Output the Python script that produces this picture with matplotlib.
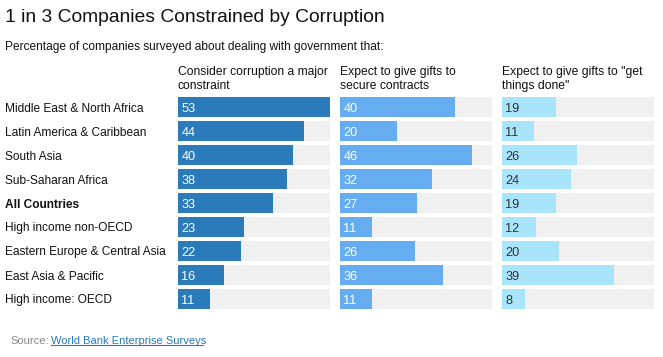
import matplotlib.pyplot as plt

plt.rcParams['font.family'] = ['Liberation Sans', 'DejaVu Sans']

regions = ['Middle East & North Africa', 'Latin America & Caribbean', 'South Asia',
           'Sub-Saharan Africa', 'All Countries', 'High income non-OECD',
           'Eastern Europe & Central Asia', 'East Asia & Pacific', 'High income: OECD']
corruption = [53, 44, 40, 38, 33, 23, 22, 16, 11]
gifts_contracts = [40, 20, 46, 32, 27, 11, 26, 36, 11]
gifts_done = [19, 11, 26, 24, 19, 12, 20, 39, 8]

headers = ['Consider corruption a major\nconstraint',
           'Expect to give gifts to\nsecure contracts',
           'Expect to give gifts to "get\nthings done"']
colors = ['#2b7bba', '#65acf0', '#a8e4fa']
text_colors = ['white', 'white', '#333333']
series = [corruption, gifts_contracts, gifts_done]

W, H = 663, 357
fig = plt.figure(figsize=(W / 100, H / 100), dpi=100)

fig.text(5 / W, 1 - 18 / H, '1 in 3 Companies Constrained by Corruption',
         fontsize=13.9, va='center', ha='left', color='#111111')
fig.text(5 / W, 1 - 47 / H, 'Percentage of companies surveyed about dealing with government that:',
         fontsize=8.6, va='center', ha='left', color='#111111')

max_val = 53
panel_left = [178, 340, 502]
panel_w = 152
top, bottom = 95, 311
n = len(regions)

for p in range(3):
    ax = fig.add_axes([panel_left[p] / W, 1 - bottom / H, panel_w / W, (bottom - top) / H])
    ypos = list(range(n))
    ax.barh(ypos, [max_val] * n, height=20 / 24, color='#f0f0f0')
    ax.barh(ypos, series[p], height=20 / 24, color=colors[p])
    for i, v in enumerate(series[p]):
        ax.text(1.2, i, str(v), color=text_colors[p], fontsize=9.2, va='center_baseline', ha='left')
    ax.set_xlim(0, max_val)
    ax.set_ylim(n - 0.5, -0.5)
    ax.axis('off')
    fig.text(panel_left[p] / W, 1 - 79 / H, headers[p], fontsize=8.7, va='center',
             ha='left', color='#111111', linespacing=1.2)

for i, r in enumerate(regions):
    y = 1 - (107 + 24 * i) / H
    fig.text(5 / W, y, r, fontsize=8.6, va='center_baseline', ha='left', color='#111111',
             fontweight='bold' if r == 'All Countries' else 'normal')

fig.text(10 / W, 1 - 340 / H, 'Source:', fontsize=8, va='center_baseline', ha='left', color='#888888')
fig.text(51 / W, 1 - 340 / H, 'World Bank Enterprise Surveys', fontsize=8, va='center_baseline',
         ha='left', color='#2a7ab8')
fig.add_artist(plt.Line2D([51 / W, 203 / W], [1 - 345 / H, 1 - 345 / H], color='#2a7ab8', lw=0.8))

fig.savefig('out.png', dpi=100)
